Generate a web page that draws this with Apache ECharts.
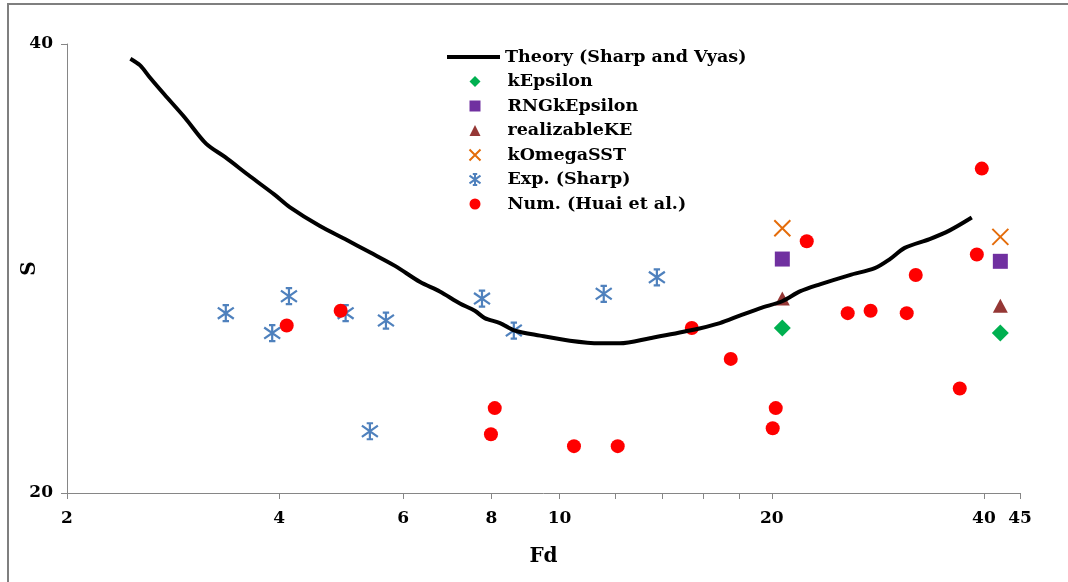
<!DOCTYPE html>
<html>
<head>
<meta charset="utf-8">
<script src="https://cdn.jsdelivr.net/npm/echarts@6/dist/echarts.min.js"></script>
<style>
html,body{margin:0;padding:0;background:#fff;}
#chart{width:1068px;height:582px;}
</style>
</head>
<body>
<div id="chart"></div>
<script>
// ---- data ----
const xTickValues = [2, 4, 6, 8, 10, 12, 14, 16, 18, 20, 40, 45];
const xLabelValues = [2, 4, 6, 8, 10, 20, 40, 45];
const yLabelValues = [20, 40];

const theoryFd = [2.46,2.54,2.62,2.75,2.94,3.15,3.35,3.64,3.94,4.14,4.57,4.96,5.38,5.84,6.34,6.76,7.22,7.58,7.83,8.23,8.64,9.38,10.34,11.40,12.17,13.43,15.30,16.88,18.01,19.23,20.73,21.92,23.40,25.80,28.00,29.42,30.88,33.50,35.77,38.44];
const theoryS  = [39.1,38.7,38.0,37.0,35.7,34.3,33.6,32.6,31.7,31.1,30.2,29.6,29.0,28.4,27.7,27.3,26.8,26.5,26.2,26.0,25.7,25.5,25.3,25.2,25.2,25.4,25.7,26.0,26.3,26.6,26.9,27.3,27.6,28.0,28.3,28.7,29.2,29.6,30.0,30.6];

const modelFd = [20.7, 42.2];
const kEpsilonS = [25.8, 25.6];
const rngKEpsilonS = [28.7, 28.6];
const realizableKES = [27.0, 26.7];
const kOmegaSSTS = [30.1, 29.7];

const expFd = [3.36,3.91,4.13,4.97,5.67,5.38,7.76,8.61,11.55,13.74];
const expS  = [26.4,25.6,27.1,26.4,26.1,22.0,27.0,25.7,27.2,27.9];

const numFd = [4.10,4.89,8.09,7.99,10.48,12.09,15.40,17.49,20.26,20.06,22.42,25.63,27.62,31.08,32.01,36.96,39.08,39.72];
const numS  = [25.9,26.5,22.8,21.9,21.5,21.5,25.8,24.6,22.8,22.1,29.5,26.4,26.5,26.4,28.0,23.5,28.9,33.0];

const seriesNames = ['Theory (Sharp and Vyas)','kEpsilon','RNGkEpsilon','realizableKE','kOmegaSST','Exp. (Sharp)','Num. (Huai et al.)'];

// ---- helpers ----
const zip = (xs, ys) => xs.map((x, i) => [x, ys[i]]);
const serif = 'DejaVu Serif';
const axisGray = '#868686';
const crossPath = 'path://M0,0L10,10M10,0L0,10';
const asteriskPath = 'path://M5,0L5,10M0,1.5L10,8.5M10,1.5L0,8.5M3,0L7,0M3,10L7,10';
const legendText = {fontFamily: serif, fontWeight: 'bold', fontSize: 17.5, color: '#000', lineHeight: 20};

const chart = echarts.init(document.getElementById('chart'), null, {renderer: 'canvas'});
chart.setOption({
  animation: false,
  backgroundColor: '#fff',
  graphic: [{
    type: 'polyline', shape: {points: [[8, 600], [8, 4], [1080, 4]]},
    style: {fill: 'none', stroke: '#7f7f7f', lineWidth: 2}, silent: true, z: -1
  }],
  grid: {left: 67, right: 48, top: 44, bottom: 89, containLabel: false, outerBoundsMode: 'none'},
  legend: [{
    orient: 'vertical', left: 447, top: 47, padding: 0,
    itemWidth: 53, itemHeight: 4, itemGap: 4.5,
    textStyle: legendText,
    data: [{name: seriesNames[0], icon: 'rect'}]
  }, {
    orient: 'vertical', left: 468.5, top: 71.5, padding: 0,
    itemWidth: 11, itemHeight: 11, itemGap: 4.5,
    textStyle: Object.assign({padding: [0, 0, 0, 22]}, legendText),
    data: seriesNames.slice(1)
  }],
  xAxis: {
    type: 'log', logBase: 10, min: 2, max: 45,
    name: 'Fd', nameLocation: 'middle', nameGap: 54, nameMoveOverlap: false,
    nameTextStyle: {fontFamily: serif, fontWeight: 'bold', fontSize: 20, color: '#000'},
    axisLine: {show: true, lineStyle: {color: axisGray, width: 1}},
    axisTick: {show: true, length: 6, lineStyle: {color: axisGray}, customValues: xTickValues},
    axisLabel: {customValues: xLabelValues, margin: 17, fontFamily: serif, fontWeight: 'bold', fontSize: 17, color: '#000',
      formatter: v => String(Math.round(v))},
    splitLine: {show: false}, minorTick: {show: false}
  },
  yAxis: {
    type: 'log', logBase: 10, min: 20, max: 40,
    name: 'S', nameLocation: 'middle', nameGap: 27, nameRotate: 90, nameMoveOverlap: false,
    nameTextStyle: {fontFamily: serif, fontWeight: 'bold', fontSize: 20, color: '#000'},
    axisLine: {show: true, lineStyle: {color: axisGray, width: 1}},
    axisTick: {show: true, length: 6, lineStyle: {color: axisGray}, customValues: yLabelValues},
    axisLabel: {customValues: yLabelValues, margin: 14, fontFamily: serif, fontWeight: 'bold', fontSize: 17, color: '#000',
      formatter: v => String(Math.round(v))},
    splitLine: {show: false}, minorTick: {show: false}
  },
  series: [
    {name: seriesNames[0], type: 'line', data: zip(theoryFd, theoryS), smooth: 0.3, symbol: 'none',
      lineStyle: {color: '#000', width: 4}, itemStyle: {color: '#000'}},
    {name: seriesNames[1], type: 'scatter', data: zip(modelFd, kEpsilonS), symbol: 'diamond', symbolSize: 17,
      itemStyle: {color: '#00b050', opacity: 1}},
    {name: seriesNames[2], type: 'scatter', data: zip(modelFd, rngKEpsilonS), symbol: 'rect', symbolSize: 15,
      itemStyle: {color: '#7030a0', opacity: 1}},
    {name: seriesNames[3], type: 'scatter', data: zip(modelFd, realizableKES), symbol: 'triangle', symbolSize: [15, 14],
      itemStyle: {color: '#953735', opacity: 1}},
    {name: seriesNames[4], type: 'scatter', data: zip(modelFd, kOmegaSSTS), symbol: crossPath, symbolSize: 16,
      itemStyle: {color: 'rgba(0,0,0,0)', borderColor: '#e46c0a', borderWidth: 2, opacity: 1}},
    {name: seriesNames[5], type: 'scatter', data: zip(expFd, expS), symbol: asteriskPath, symbolSize: 16,
      itemStyle: {color: 'rgba(0,0,0,0)', borderColor: '#4f81bd', borderWidth: 2.2, opacity: 1}},
    {name: seriesNames[6], type: 'scatter', data: zip(numFd, numS), symbol: 'circle', symbolSize: 14,
      itemStyle: {color: '#ff0000', opacity: 1}}
  ]
});
</script>
</body>
</html>
